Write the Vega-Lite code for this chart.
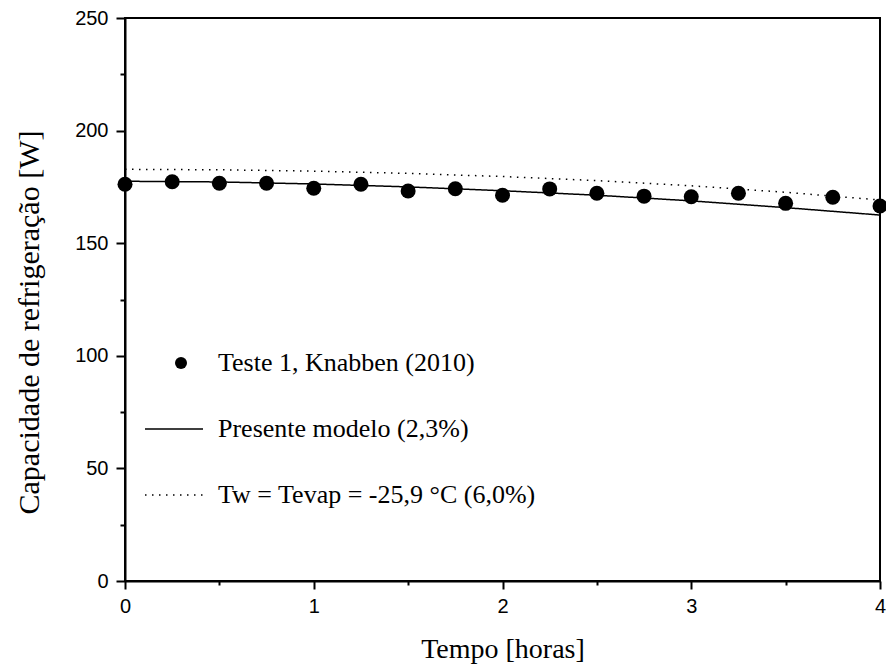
{
  "$schema": "https://vega.github.io/schema/vega-lite/v6.json",
  "width": 755,
  "height": 563,
  "autosize": {"type": "none"},
  "padding": {"left": 125, "top": 18, "right": 6, "bottom": 86},
  "background": "white",
  "config": {
    "view": {"stroke": "black", "strokeWidth": 2},
    "axis": {
      "domainColor": "black",
      "domainWidth": 2,
      "tickColor": "black",
      "tickWidth": 2,
      "grid": false,
      "labelFont": "Liberation Sans",
      "labelFontSize": 20,
      "labelColor": "black",
      "titleFont": "Liberation Serif",
      "titleFontSize": 28,
      "titleFontWeight": "normal",
      "titleColor": "black"
    },
    "legend": {
      "labelFont": "Liberation Serif",
      "labelFontSize": 26,
      "labelColor": "black",
      "labelLimit": 0,
      "padding": 0
    }
  },
  "datasets": {
    "exp": [
      {"t": 0, "q": 176.2, "series": "Teste 1, Knabben (2010)"},
      {"t": 0.25, "q": 177.3, "series": "Teste 1, Knabben (2010)"},
      {"t": 0.5, "q": 176.6, "series": "Teste 1, Knabben (2010)"},
      {"t": 0.75, "q": 176.6, "series": "Teste 1, Knabben (2010)"},
      {"t": 1, "q": 174.4, "series": "Teste 1, Knabben (2010)"},
      {"t": 1.25, "q": 176.2, "series": "Teste 1, Knabben (2010)"},
      {"t": 1.5, "q": 173.2, "series": "Teste 1, Knabben (2010)"},
      {"t": 1.75, "q": 174.2, "series": "Teste 1, Knabben (2010)"},
      {"t": 2, "q": 171.3, "series": "Teste 1, Knabben (2010)"},
      {"t": 2.25, "q": 174.1, "series": "Teste 1, Knabben (2010)"},
      {"t": 2.5, "q": 172.2, "series": "Teste 1, Knabben (2010)"},
      {"t": 2.75, "q": 170.9, "series": "Teste 1, Knabben (2010)"},
      {"t": 3, "q": 170.6, "series": "Teste 1, Knabben (2010)"},
      {"t": 3.25, "q": 172.2, "series": "Teste 1, Knabben (2010)"},
      {"t": 3.5, "q": 167.7, "series": "Teste 1, Knabben (2010)"},
      {"t": 3.75, "q": 170.4, "series": "Teste 1, Knabben (2010)"},
      {"t": 4, "q": 166.5, "series": "Teste 1, Knabben (2010)"}
    ],
    "model": [
      {"t": 0, "q": 177.5, "series": "Presente modelo (2,3%)"},
      {"t": 0.5, "q": 177.2, "series": "Presente modelo (2,3%)"},
      {"t": 1, "q": 176.3, "series": "Presente modelo (2,3%)"},
      {"t": 1.5, "q": 175.0, "series": "Presente modelo (2,3%)"},
      {"t": 2, "q": 173.3, "series": "Presente modelo (2,3%)"},
      {"t": 2.5, "q": 171.3, "series": "Presente modelo (2,3%)"},
      {"t": 3, "q": 168.8, "series": "Presente modelo (2,3%)"},
      {"t": 3.5, "q": 165.8, "series": "Presente modelo (2,3%)"},
      {"t": 4, "q": 162.5, "series": "Presente modelo (2,3%)"},
      {"t": 0, "q": 182.8, "series": "Tw = Tevap =  -25,9 °C (6,0%)"},
      {"t": 0.5, "q": 182.6, "series": "Tw = Tevap =  -25,9 °C (6,0%)"},
      {"t": 1, "q": 182.0, "series": "Tw = Tevap =  -25,9 °C (6,0%)"},
      {"t": 1.5, "q": 181.0, "series": "Tw = Tevap =  -25,9 °C (6,0%)"},
      {"t": 2, "q": 179.6, "series": "Tw = Tevap =  -25,9 °C (6,0%)"},
      {"t": 2.5, "q": 177.8, "series": "Tw = Tevap =  -25,9 °C (6,0%)"},
      {"t": 3, "q": 175.5, "series": "Tw = Tevap =  -25,9 °C (6,0%)"},
      {"t": 3.5, "q": 172.6, "series": "Tw = Tevap =  -25,9 °C (6,0%)"},
      {"t": 4, "q": 169.2, "series": "Tw = Tevap =  -25,9 °C (6,0%)"}
    ]
  },
  "encoding": {
    "x": {
      "field": "t",
      "type": "quantitative",
      "title": "Tempo [horas]",
      "scale": {"domain": [0, 4], "nice": false, "zero": false},
      "axis": {
        "values": [0, 0.5, 1, 1.5, 2, 2.5, 3, 3.5, 4],
        "labelExpr": "datum.value % 1 === 0 ? format(datum.value, 'd') : ''",
        "labelFlush": false,
        "tickSize": {"condition": {"test": "datum.value % 1 === 0", "value": 8}, "value": 4},
        "labelPadding": 7,
        "titlePadding": 19
      }
    },
    "y": {
      "field": "q",
      "type": "quantitative",
      "title": "Capacidade de refrigeração [W]",
      "scale": {"domain": [0, 250], "nice": false},
      "axis": {
        "values": [0, 25, 50, 75, 100, 125, 150, 175, 200, 225, 250],
        "labelExpr": "datum.value % 50 === 0 ? format(datum.value, 'd') : ''",
        "labelFlush": false,
        "tickSize": {"condition": {"test": "datum.value % 50 === 0", "value": 9}, "value": 5},
        "labelPadding": 8,
        "titleFontSize": 30,
        "titleY": 304,
        "titlePadding": 30
      }
    }
  },
  "layer": [
    {
      "data": {"name": "model"},
      "mark": {"type": "line", "color": "black", "strokeWidth": 1.5},
      "encoding": {
        "strokeDash": {
          "field": "series",
          "type": "nominal",
          "scale": {
            "domain": ["Presente modelo (2,3%)", "Tw = Tevap =  -25,9 °C (6,0%)"],
            "range": [[1, 0], [1.5, 5.5]]
          },
          "legend": {
            "title": null,
            "orient": "none",
            "legendX": 19,
            "legendY": 381,
            "symbolType": "stroke",
            "symbolSize": 3364,
            "symbolStrokeColor": "black",
            "symbolStrokeWidth": 1.5,
            "labelOffset": 14,
            "rowPadding": 23
          }
        }
      }
    },
    {
      "data": {"name": "exp"},
      "mark": {"type": "point", "filled": true, "color": "black", "size": 225, "opacity": 1},
      "encoding": {
        "shape": {
          "field": "series",
          "type": "nominal",
          "scale": {"domain": ["Teste 1, Knabben (2010)"], "range": ["circle"]},
          "legend": {
            "title": null,
            "orient": "none",
            "legendX": 43,
            "legendY": 332,
            "symbolSize": 144,
            "symbolFillColor": "black",
            "symbolStrokeColor": "black",
            "labelOffset": 24
          }
        }
      }
    }
  ]
}
